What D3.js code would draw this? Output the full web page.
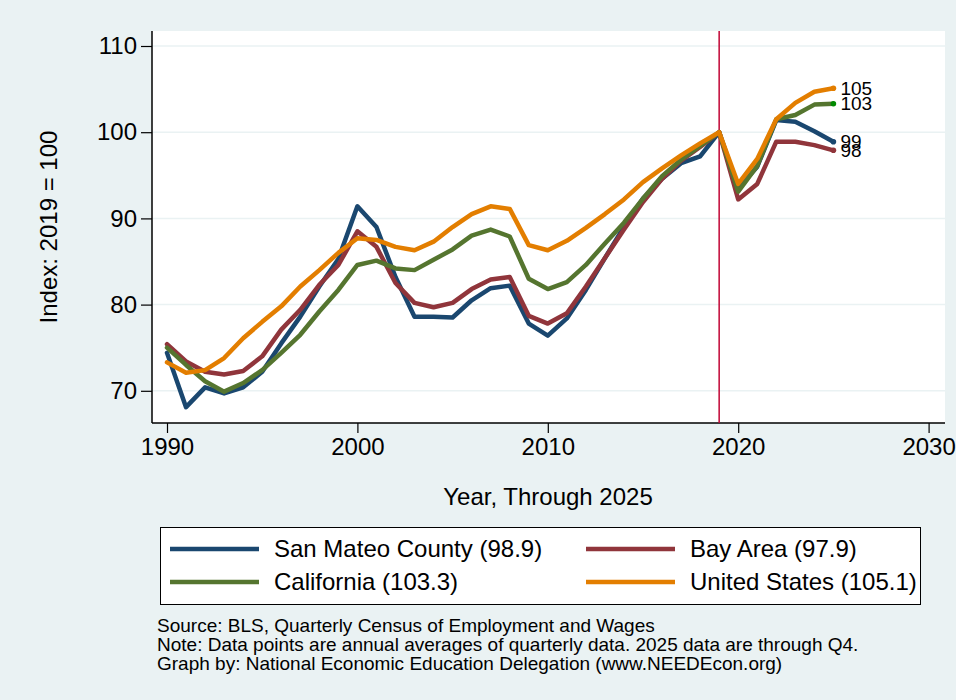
<!DOCTYPE html>
<html>
<head>
<meta charset="utf-8">
<script src="https://cdn.jsdelivr.net/npm/d3@7"></script>
<style>
  body { margin: 0; background: #eaf2f3; }
  text { font-family: "Liberation Sans", Arial, Helvetica, sans-serif; fill: #000; }
</style>
</head>
<body>
<script>
// data: annual index, 2019 = 100
const years = d3.range(1990, 2026);
const seriesNames = ["San Mateo County", "Bay Area", "California", "United States"];
const sanMateo = [74.4, 68.1, 70.4, 69.7, 70.4, 72.2, 75.5, 78.6, 82.1, 85.3,
                  91.4, 89.0, 83.2, 78.6, 78.6, 78.5, 80.5, 81.9, 82.2, 77.8,
                  76.4, 78.4, 81.7, 85.4, 89.0, 92.3, 94.6, 96.4, 97.2, 100,
                  93.5, 96.0, 101.4, 101.2, 100.1, 98.9];
const bayArea = [75.4, 73.4, 72.2, 71.9, 72.3, 74.0, 77.1, 79.4, 82.3, 84.6,
                 88.5, 86.7, 82.5, 80.2, 79.7, 80.2, 81.8, 82.9, 83.2, 78.7,
                 77.8, 79.0, 82.1, 85.4, 88.7, 91.9, 94.6, 96.7, 98.3, 100,
                 92.2, 94.0, 98.9, 98.9, 98.5, 97.9];
const california = [75.0, 73.0, 71.1, 69.9, 70.9, 72.4, 74.4, 76.5, 79.2, 81.7,
                    84.6, 85.1, 84.2, 84.0, 85.2, 86.4, 88.0, 88.7, 87.9, 83.0,
                    81.8, 82.6, 84.6, 87.1, 89.5, 92.3, 94.9, 96.8, 98.4, 100,
                    93.1, 96.1, 101.5, 102.0, 103.2, 103.3];
const unitedStates = [73.3, 72.1, 72.4, 73.8, 76.1, 78.0, 79.8, 82.1, 84.0, 86.0,
                      87.7, 87.5, 86.7, 86.3, 87.3, 89.0, 90.5, 91.4, 91.1, 86.9,
                      86.3, 87.4, 88.9, 90.5, 92.2, 94.2, 95.8, 97.3, 98.7, 100,
                      94.0, 96.9, 101.5, 103.4, 104.7, 105.1];
const xTicks = [1990, 2000, 2010, 2020, 2030];
const yTicks = [70, 80, 90, 100, 110];
const baseYear = 2019;
const notes = [
  "Source: BLS, Quarterly Census of Employment and Wages",
  "Note: Data points are annual averages of quarterly data. 2025 data are through Q4.",
  "Graph by: National Economic Education Delegation (www.NEEDEcon.org)"
];

const colors = ["#1a476f", "#90353b", "#55752f", "#e37e00"];
const endDotColors = ["#1a476f", "#90353b", "#008a00", "#e37e00"];
const allSeries = [sanMateo, bayArea, california, unitedStates];

const width = 956, height = 700;
const plot = {left: 152, right: 945, top: 31, bottom: 423};

const svg = d3.select("body").append("svg")
    .attr("width", width)
    .attr("height", height);

svg.append("rect")
    .attr("width", width)
    .attr("height", height)
    .attr("fill", "#eaf2f3");

// plot region
svg.append("rect")
    .attr("x", plot.left)
    .attr("y", plot.top)
    .attr("width", plot.right - plot.left)
    .attr("height", plot.bottom - plot.top)
    .attr("fill", "#fff");

const xScale = d3.scaleLinear().domain([1990, 2030]).range([167, 928.6]);
const yScale = d3.scaleLinear().domain([70, 110]).range([390.8, 46]);

// gridlines
svg.append("g").selectAll("line")
    .data(yTicks)
    .join("line")
    .attr("x1", plot.left)
    .attr("x2", plot.right)
    .attr("y1", d => yScale(d))
    .attr("y2", d => yScale(d))
    .attr("stroke", "#eaf2f3")
    .attr("stroke-width", 1.5);

// axes
const yAxis = svg.append("g")
    .attr("transform", `translate(${plot.left},0)`)
    .call(d3.axisLeft(yScale).tickValues(yTicks).tickSize(11).tickPadding(4).tickSizeOuter(0));
yAxis.select(".domain").remove();
yAxis.append("line")
    .attr("y1", plot.top).attr("y2", plot.bottom)
    .attr("stroke", "#000").attr("stroke-width", 1.5);

const xAxis = svg.append("g")
    .attr("transform", `translate(0,${plot.bottom})`)
    .call(d3.axisBottom(xScale).tickValues(xTicks).tickFormat(d3.format("d")).tickSize(10).tickPadding(5).tickSizeOuter(0));
xAxis.select(".domain").remove();
xAxis.append("line")
    .attr("x1", plot.left).attr("x2", plot.right)
    .attr("stroke", "#000").attr("stroke-width", 1.5);

svg.selectAll(".tick line").attr("stroke", "#000").attr("stroke-width", 1.2);
svg.selectAll(".tick text")
    .attr("font-size", "24px")
    .attr("font-family", "Liberation Sans, Arial, sans-serif")
    .attr("fill", "#000");

// axis titles
svg.append("text")
    .attr("transform", "translate(57,227) rotate(-90)")
    .attr("text-anchor", "middle")
    .attr("font-size", "24px")
    .text("Index: 2019 = 100");

svg.append("text")
    .attr("x", 548)
    .attr("y", 505)
    .attr("text-anchor", "middle")
    .attr("font-size", "24px")
    .text("Year, Through 2025");

// base year marker
svg.append("line")
    .attr("x1", xScale(baseYear)).attr("x2", xScale(baseYear))
    .attr("y1", plot.top).attr("y2", plot.bottom)
    .attr("stroke", "#c10534")
    .attr("stroke-width", 1.5);

// lines
const line = d3.line()
    .x((d, i) => xScale(years[i]))
    .y(d => yScale(d));

svg.append("g").selectAll("path")
    .data(allSeries)
    .join("path")
    .attr("d", line)
    .attr("fill", "none")
    .attr("stroke", (d, i) => colors[i])
    .attr("stroke-width", 4.5)
    .attr("stroke-linejoin", "round")
    .attr("stroke-linecap", "round");

// end markers and labels
const lastYear = years[years.length - 1];
svg.append("g").selectAll("circle")
    .data(allSeries)
    .join("circle")
    .attr("cx", xScale(lastYear))
    .attr("cy", d => yScale(d[d.length - 1]))
    .attr("r", 2.8)
    .attr("fill", (d, i) => endDotColors[i]);

svg.append("g").selectAll("text")
    .data(allSeries)
    .join("text")
    .attr("x", xScale(lastYear) + 7)
    .attr("y", d => yScale(d[d.length - 1]))
    .attr("dy", "0.35em")
    .attr("font-size", "19px")
    .text(d => Math.round(d[d.length - 1]));

// legend
const legend = svg.append("g");
legend.append("rect")
    .attr("x", 160.5).attr("y", 527.5)
    .attr("width", 760).attr("height", 77)
    .attr("fill", "#fff")
    .attr("stroke", "#000")
    .attr("stroke-width", 1);

const legendPos = [[170, 549], [586, 549], [170, 582], [586, 582]];
const legendOrder = [0, 1, 2, 3];
legendOrder.forEach((s, k) => {
    const [lx, ly] = legendPos[k];
    const vals = allSeries[s];
    legend.append("line")
        .attr("x1", lx).attr("x2", lx + 89)
        .attr("y1", ly).attr("y2", ly)
        .attr("stroke", colors[s])
        .attr("stroke-width", 4.5);
    legend.append("text")
        .attr("x", lx + 104)
        .attr("y", ly)
        .attr("dy", "0.35em")
        .attr("font-size", "24px")
        .text(`${seriesNames[s]} (${vals[vals.length - 1].toFixed(1)})`);
});

// notes
svg.append("g").selectAll("text")
    .data(notes)
    .join("text")
    .attr("x", 157)
    .attr("y", (d, i) => 632 + i * 19)
    .attr("font-size", "19px")
    .text(d => d);
</script>
</body>
</html>
